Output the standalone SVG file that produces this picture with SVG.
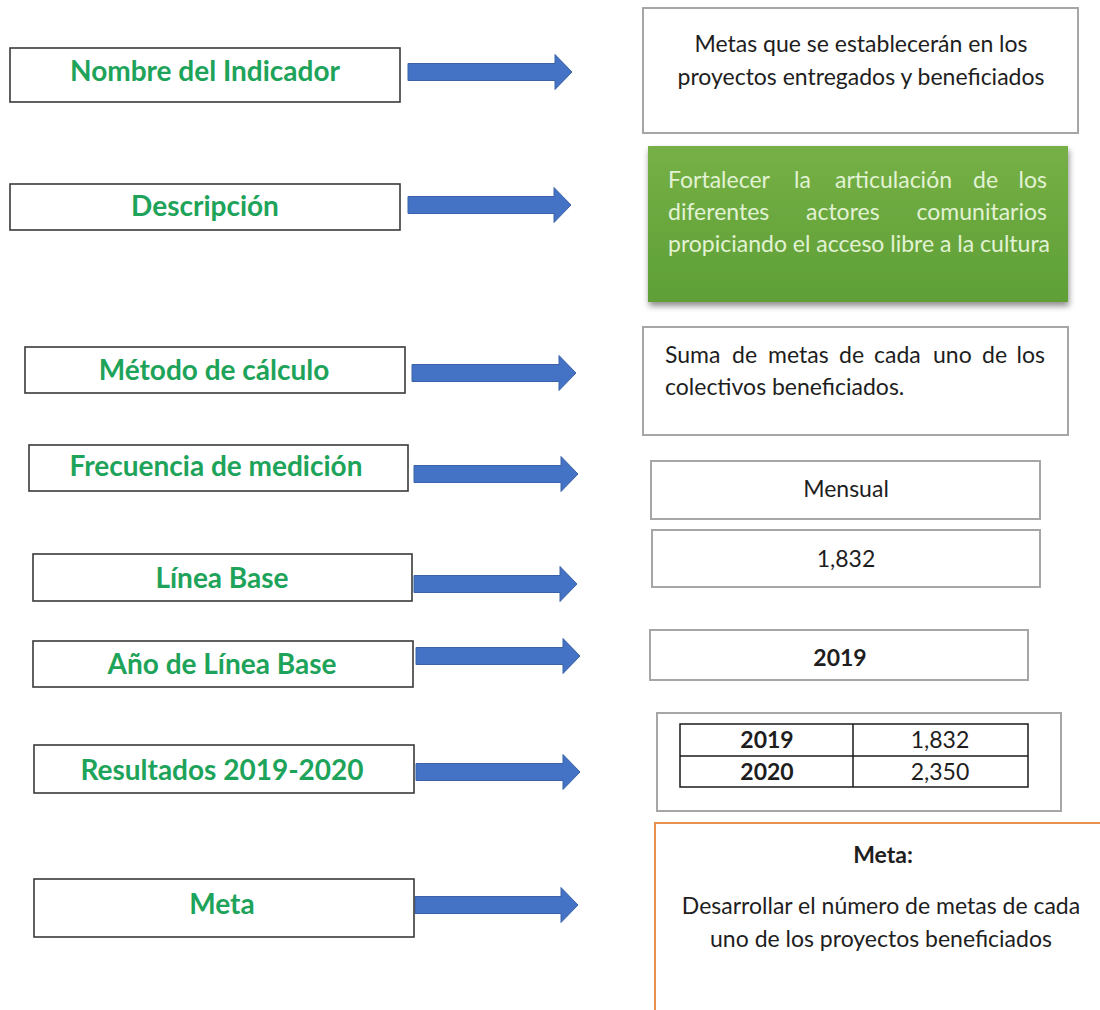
<svg xmlns="http://www.w3.org/2000/svg" width="1100" height="1010" viewBox="0 0 1100 1010">
<defs>
<style>
.lbox{fill:#fff;stroke:#3a3a3a;stroke-width:1.6}
.lbl{font-family:Lato,"Liberation Sans",sans-serif;font-weight:bold;font-size:28px;fill:#1ea35a;text-anchor:middle}
.rbox{fill:#fff;stroke:#a6a6a6;stroke-width:2}
.rt{font-family:Lato,"Liberation Sans",sans-serif;font-size:23px;fill:#1e1e1e}
.c{text-anchor:middle}
.b{font-weight:bold}
.gt{font-family:Lato,"Liberation Sans",sans-serif;font-size:23px;fill:#e2f2d4}
.arrow{fill:#4472c4;stroke:#3b62a8;stroke-width:1}
.tab{fill:none;stroke:#1a1a1a;stroke-width:1.5}
</style>
<linearGradient id="gg" x1="0" y1="0" x2="0" y2="1">
<stop offset="0" stop-color="#76b046"/>
<stop offset="1" stop-color="#5e9f36"/>
</linearGradient>
<filter id="sh" x="-10%" y="-10%" width="120%" height="130%">
<feGaussianBlur in="SourceAlpha" stdDeviation="3"/>
<feOffset dx="1" dy="4"/>
<feComponentTransfer><feFuncA type="linear" slope="0.45"/></feComponentTransfer>
<feMerge><feMergeNode/><feMergeNode in="SourceGraphic"/></feMerge>
</filter>
</defs>
<rect width="1100" height="1010" fill="#fff"/>

<g id="connectors">
<path class="arrow" d="M408,63.5 H555 V54.5 L572,72 L555,89.5 V80.5 H408 Z"/>
<path class="arrow" d="M408,196.5 H554 V187.5 L571,205 L554,222.5 V213.5 H408 Z"/>
<path class="arrow" d="M412,364.5 H559 V355.5 L576,373 L559,390.5 V381.5 H412 Z"/>
<path class="arrow" d="M414,465.5 H561 V456.5 L578,474 L561,491.5 V482.5 H414 Z"/>
<path class="arrow" d="M414,575.5 H560 V566.5 L577,584 L560,601.5 V592.5 H414 Z"/>
<path class="arrow" d="M416,647.5 H563 V638.5 L580,656 L563,673.5 V664.5 H416 Z"/>
<path class="arrow" d="M416,763.5 H563 V754.5 L580,772 L563,789.5 V780.5 H416 Z"/>
<path class="arrow" d="M415,896.5 H561 V887.5 L578,905 L561,922.5 V913.5 H415 Z"/>
</g>

<g id="lbl-nombre"><rect class="lbox" x="10" y="48" width="390" height="54"/><text class="lbl" x="205" y="81">Nombre del Indicador</text></g>
<g id="lbl-descripcion"><rect class="lbox" x="10" y="184" width="390" height="46"/><text class="lbl" x="205" y="216">Descripción</text></g>
<g id="lbl-metodo"><rect class="lbox" x="25" y="347" width="380" height="46"/><text class="lbl" x="214" y="380">Método de cálculo</text></g>
<g id="lbl-frecuencia"><rect class="lbox" x="29" y="445" width="379" height="46"/><text class="lbl" x="216" y="476">Frecuencia de medición</text></g>
<g id="lbl-linea"><rect class="lbox" x="33" y="554" width="379" height="47"/><text class="lbl" x="222" y="588">Línea Base</text></g>
<g id="lbl-anio"><rect class="lbox" x="33" y="641" width="380" height="46"/><text class="lbl" x="222" y="674">Año de Línea Base</text></g>
<g id="lbl-resultados"><rect class="lbox" x="34" y="745" width="380" height="48"/><text class="lbl" x="222" y="780">Resultados 2019-2020</text></g>
<g id="lbl-meta"><rect class="lbox" x="34" y="879" width="380" height="58"/><text class="lbl" x="222" y="914">Meta</text></g>

<g id="val-nombre"><rect class="rbox" x="643" y="8" width="435" height="125"/>
<text class="rt c" x="861" y="52">Metas que se establecerán en los</text>
<text class="rt c" x="861" y="85">proyectos entregados y beneficiados</text></g>

<g id="val-descripcion"><rect x="648" y="146" width="420" height="156" fill="url(#gg)" filter="url(#sh)"/>
<text class="gt" y="188"><tspan x="668">Fortalecer</tspan><tspan x="794">la</tspan><tspan x="835">articulación</tspan><tspan x="973">de</tspan><tspan x="1047" text-anchor="end">los</tspan></text>
<text class="gt" y="220"><tspan x="668">diferentes</tspan><tspan x="806">actores</tspan><tspan x="1047" text-anchor="end">comunitarios</tspan></text>
<text class="gt" y="252"><tspan x="668">propiciando el acceso libre a la cultura</tspan></text></g>

<g id="val-metodo"><rect class="rbox" x="643" y="327" width="425" height="108"/>
<text class="rt" y="363"><tspan x="665">Suma</tspan><tspan x="732">de</tspan><tspan x="768">metas</tspan><tspan x="839">de</tspan><tspan x="874">cada</tspan><tspan x="933">uno</tspan><tspan x="982">de</tspan><tspan x="1045" text-anchor="end">los</tspan></text>
<text class="rt" x="665" y="395">colectivos beneficiados.</text></g>

<g id="val-frecuencia"><rect class="rbox" x="651" y="461" width="389" height="58"/><text class="rt c" x="846" y="497">Mensual</text></g>
<g id="val-linea"><rect class="rbox" x="652" y="530" width="388" height="57"/><text class="rt c" x="846" y="567">1,832</text></g>
<g id="val-anio"><rect class="rbox" x="650" y="630" width="378" height="50"/><text class="rt c b" x="840" y="666">2019</text></g>

<g id="val-resultados"><rect class="rbox" x="657" y="713" width="404" height="98"/>
<rect class="tab" x="680" y="724" width="348" height="63"/>
<line class="tab" x1="680" y1="756" x2="1028" y2="756"/>
<line class="tab" x1="853" y1="724" x2="853" y2="787"/>
<text class="rt c b" x="767" y="748">2019</text>
<text class="rt c" x="940" y="748">1,832</text>
<text class="rt c b" x="767" y="780">2020</text>
<text class="rt c" x="940" y="780">2,350</text></g>

<g id="val-meta"><rect x="655" y="823" width="460" height="200" fill="#fff" stroke="#e8914f" stroke-width="2"/>
<text class="rt c b" x="883" y="863">Meta:</text>
<text class="rt c" x="881" y="914">Desarrollar el número de metas de cada</text>
<text class="rt c" x="881" y="947">uno de los proyectos beneficiados</text></g>
</svg>
